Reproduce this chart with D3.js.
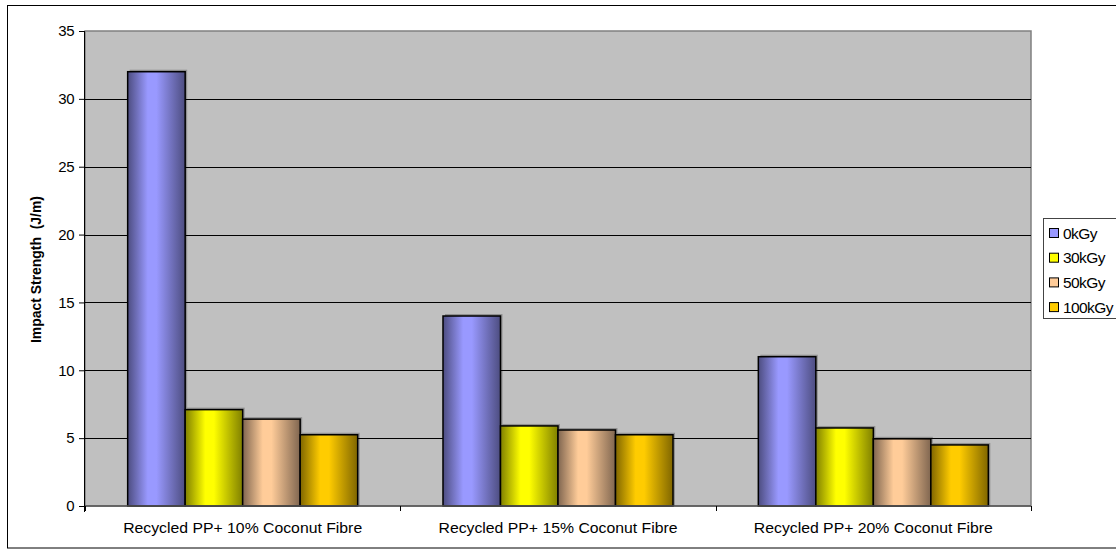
<!DOCTYPE html>
<html><head><meta charset="utf-8">
<script src="https://cdn.jsdelivr.net/npm/d3@7"></script>
<style>body{margin:0;background:#fff}svg{display:block;font-family:"Liberation Sans",Arial,sans-serif}</style>
</head><body><svg id="c" width="1116" height="552"></svg>
<script>
const categories = ["Recycled PP+ 10% Coconut Fibre","Recycled PP+ 15% Coconut Fibre","Recycled PP+ 20% Coconut Fibre"];
const seriesNames = ["0kGy","30kGy","50kGy","100kGy"];
const s0kGy   = [32, 14, 11];
const s30kGy  = [7.1, 5.9, 5.75];
const s50kGy  = [6.4, 5.6, 4.95];
const s100kGy = [5.25, 5.25, 4.5];
const yTicks = [0,5,10,15,20,25,30,35];
const yTitle = "Impact Strength  (J/m)";

const seriesValues = [s0kGy, s30kGy, s50kGy, s100kGy];
const centerColors = ["#9999ff","#ffff00","#ffcc99","#ffcc00"];
const edgeColors   = ["#4d4d80","#808000","#806650","#806600"];

const svg = d3.select("#c");
const L = 85, T = 31, R = 1031, B = 506;

// outer frame
svg.append("rect").attr("x",7.5).attr("y",5.5).attr("width",1120).attr("height",542.5)
  .attr("fill","#fff").attr("stroke","#000").attr("stroke-width",1);

const defs = svg.append("defs");
seriesNames.forEach((n,i)=>{
  const g = defs.append("linearGradient").attr("id","g"+i).attr("x1","0").attr("x2","1").attr("y1","0").attr("y2","0");
  g.append("stop").attr("offset","0%").attr("stop-color",edgeColors[i]);
  g.append("stop").attr("offset","35%").attr("stop-color",centerColors[i]);
  g.append("stop").attr("offset","50%").attr("stop-color",centerColors[i]);
  g.append("stop").attr("offset","100%").attr("stop-color",edgeColors[i]);
});

const y = d3.scaleLinear().domain([0,35]).range([B,T]);
const x0 = d3.scaleBand().domain(categories).range([L,R]).paddingInner(0).paddingOuter(0);
const x1 = d3.scaleBand().domain(seriesNames).range([0,x0.bandwidth()]).paddingOuter(0.742).paddingInner(0);

// plot area
svg.append("rect").attr("x",L).attr("y",T).attr("width",R-L).attr("height",B-T)
  .attr("fill","#c0c0c0").attr("stroke","#808080").attr("stroke-width",1.5);

// gridlines
svg.append("g").selectAll("line").data(yTicks.filter(t=>t>0&&t<35)).join("line")
  .attr("x1",L).attr("x2",R).attr("y1",d=>Math.round(y(d))+0.5).attr("y2",d=>Math.round(y(d))+0.5)
  .attr("stroke","#000").attr("stroke-width",1);

// bars
const groups = svg.append("g").selectAll("g").data(categories).join("g")
  .attr("transform",d=>`translate(${x0(d)},0)`);
groups.each(function(cat,ci){
  const g = d3.select(this);
  seriesNames.forEach((s,si)=>{
    const v = seriesValues[si][ci];
    g.append("rect").attr("x",x1(s)+2).attr("y",y(v)-2).attr("width",x1.bandwidth()).attr("height",B-y(v)+2)
      .attr("fill","#000").attr("opacity",0.25);
  });
  seriesNames.forEach((s,si)=>{
    const v = seriesValues[si][ci];
    g.append("rect").attr("x",x1(s)).attr("y",y(v)).attr("width",x1.bandwidth()).attr("height",B-y(v))
      .attr("fill",`url(#g${si})`).attr("stroke","#000").attr("stroke-width",1.5);
  });
});

// y axis
const yAxis = d3.axisLeft(y).tickValues(yTicks).tickSize(6).tickPadding(5).tickFormat(d3.format("d"));
const ya = svg.append("g").attr("transform",`translate(${L},0)`).call(yAxis);
ya.select(".domain").attr("stroke","#000").attr("d",`M-0.5,${T}V${B+6}`);
ya.selectAll(".tick line").attr("stroke","#000");
ya.selectAll("text").attr("font-size",15).attr("font-family","Liberation Sans, Arial").attr("fill","#000")
  .attr("letter-spacing",-0.5);

// x axis
svg.append("line").attr("x1",L).attr("x2",R).attr("y1",B).attr("y2",B).attr("stroke","#555").attr("stroke-width",1.5);
const xa = d3.axisBottom(x0).tickSize(0).tickPadding(17);
const xg = svg.append("g").attr("transform",`translate(0,${B})`).call(xa);
xg.select(".domain").remove();
xg.selectAll("text").attr("font-size",14).attr("font-family","Liberation Sans, Arial").attr("fill","#000")
  .attr("textLength",239).attr("lengthAdjust","spacingAndGlyphs");
svg.append("g").selectAll("line").data(categories.concat([null])).join("line")
  .attr("x1",(d,i)=>Math.round(L+i*x0.bandwidth())+0.5).attr("x2",(d,i)=>Math.round(L+i*x0.bandwidth())+0.5)
  .attr("y1",B).attr("y2",B+5).attr("stroke","#000");

// y title
svg.append("text").attr("transform",`translate(41,${(T+B)/2+1}) rotate(-90)`)
  .attr("text-anchor","middle").attr("font-weight","bold").attr("font-size",14)
  .style("white-space","pre")
  .attr("textLength",147).attr("lengthAdjust","spacingAndGlyphs").text(yTitle);

// legend
const lg = svg.append("g");
lg.append("rect").attr("x",1043.5).attr("y",218.5).attr("width",90).attr("height",100)
  .attr("fill","#fff").attr("stroke","#444");
seriesNames.forEach((s,i)=>{
  const cy = 233 + i*24.7;
  lg.append("rect").attr("x",1049.5).attr("y",cy-4.5).attr("width",9).attr("height",9)
    .attr("fill",centerColors[i]).attr("stroke","#000");
  lg.append("text").attr("x",1063).attr("y",cy+5.5).attr("font-size",15.5).attr("letter-spacing",-0.6).text(s);
});
</script></body></html>
